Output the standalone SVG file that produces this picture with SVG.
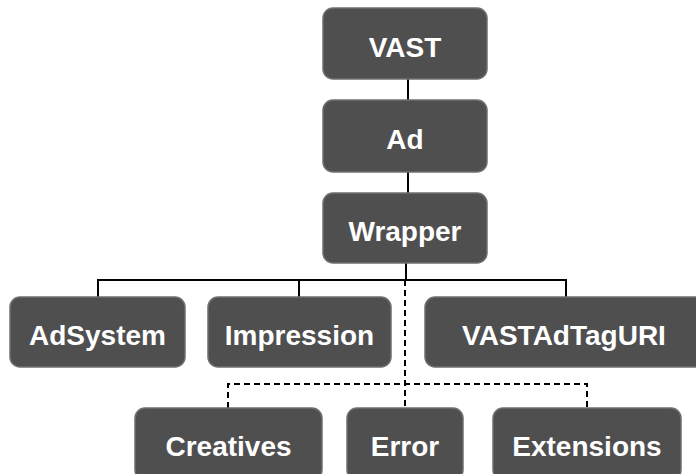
<svg xmlns="http://www.w3.org/2000/svg" width="696" height="474" viewBox="0 0 696 474">
<style>
.box{fill:#4f4f4f;stroke:#6f6f6f;stroke-width:1.5}
.lbl{font-family:"Liberation Sans",Arial,sans-serif;font-weight:bold;font-size:28px;fill:#ffffff;text-anchor:middle}
.ln{stroke:#000;stroke-width:2;fill:none}
.dash{stroke:#000;stroke-width:2;fill:none;stroke-dasharray:6 4}
</style>
<rect width="696" height="474" fill="#ffffff"/>
<g id="connectors">
<line class="ln" x1="408" y1="79" x2="408" y2="100"/>
<line class="ln" x1="408" y1="172" x2="408" y2="193"/>
<line class="ln" x1="406" y1="263" x2="406" y2="280"/>
<polyline class="ln" points="98,297 98,280 566,280 566,297"/>
<line class="ln" x1="299" y1="280" x2="299" y2="297"/>
<line class="dash" x1="405" y1="280" x2="405" y2="408"/>
<polyline class="dash" points="228,408 228,384 587,384 587,408"/>
</g>
<g id="n-vast"><rect class="box" x="323" y="8" width="164" height="71" rx="10"/><text class="lbl" x="405" y="57">VAST</text></g>
<g id="n-ad"><rect class="box" x="323" y="100" width="164" height="72" rx="10"/><text class="lbl" x="405" y="149">Ad</text></g>
<g id="n-wrapper"><rect class="box" x="323" y="193" width="164" height="70" rx="10"/><text class="lbl" x="405" y="241">Wrapper</text></g>
<g id="n-adsystem"><rect class="box" x="10" y="297" width="175" height="70" rx="10"/><text class="lbl" x="97.5" y="345">AdSystem</text></g>
<g id="n-impression"><rect class="box" x="208" y="297" width="183" height="70" rx="10"/><text class="lbl" x="299.5" y="345">Impression</text></g>
<g id="n-vastadtaguri"><rect class="box" x="425" y="297" width="280" height="70" rx="10"/><text class="lbl" x="564" y="345">VASTAdTagURI</text></g>
<g id="n-creatives"><rect class="box" x="135" y="408" width="187" height="72" rx="10"/><text class="lbl" x="228.5" y="456">Creatives</text></g>
<g id="n-error"><rect class="box" x="347" y="408" width="116" height="72" rx="10"/><text class="lbl" x="405" y="456">Error</text></g>
<g id="n-extensions"><rect class="box" x="493" y="408" width="188" height="72" rx="10"/><text class="lbl" x="587" y="456">Extensions</text></g>
</svg>
